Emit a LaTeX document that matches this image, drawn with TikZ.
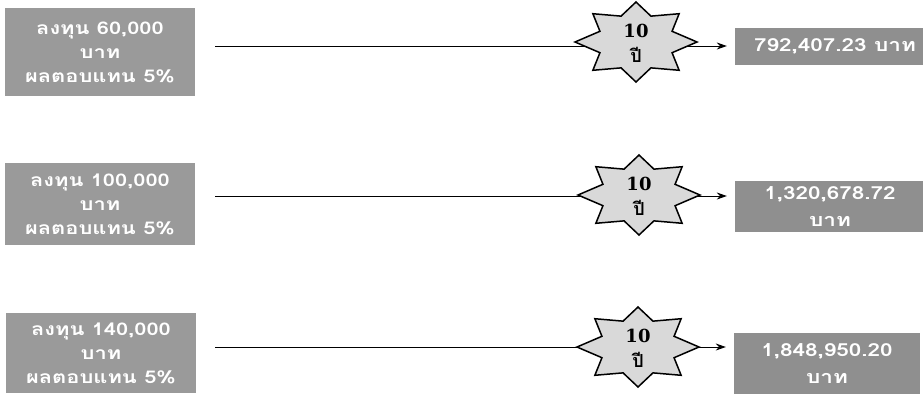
\documentclass[tikz,border=0pt]{standalone}
\usepackage{fontspec}
\newfontfamily\thai[Script=Thai,FakeStretch=1.25]{Loma}
\newfontfamily\thaistar[Script=Thai]{Loma}
\newfontfamily\serifnum{DejaVu Serif}
\usetikzlibrary{arrows.meta}
\definecolor{boxgray}{HTML}{9A9A9A}
\definecolor{resgray}{HTML}{8F8F8F}
\definecolor{stargray}{HTML}{D9D9D9}
\tikzset{
  inbox/.style={fill=boxgray, draw=none, text=white, font=\thai\bfseries\fontsize{17.5}{24}\selectfont, align=center, minimum width=190pt, inner sep=0pt},
  resbox/.style={fill=resgray, draw=none, text=white, font=\thai\bfseries\fontsize{18}{27}\selectfont, align=center, minimum width=190pt, inner sep=0pt},
  startext/.style={font=\bfseries\fontsize{18}{25}\selectfont, align=center, inner sep=0pt},
  starshape/.style={fill=stargray, draw=black, line width=1.5pt, line join=miter},
  conn/.style={draw=black, line width=0.9pt, -{Stealth[length=10pt,width=7pt]}}
}
\begin{document}
\begin{tikzpicture}[x=1pt,y=-1pt]
\useasboundingbox (0,0) rectangle (923,394);
% input boxes
\node[inbox, minimum height=88pt] (a1) at (100,52) {ลงทุน 60,000\\บาท\\ผลตอบแทน 5\%};
\node[inbox, minimum height=82pt] (a2) at (100,204) {ลงทุน 100,000\\บาท\\ผลตอบแทน 5\%};
\node[inbox, minimum height=80pt] (a3) at (101,353) {ลงทุน 140,000\\บาท\\ผลตอบแทน 5\%};
% result boxes
\node[resbox, minimum height=37pt, minimum width=200pt] (r1) at (835,46.5) {792,407.23 บาท};
\node[resbox, minimum height=51pt] (r2) at (830,206.5) {1,320,678.72\\บาท};
\node[resbox, minimum height=61pt, minimum width=186pt] (r3) at (827,363.5) {1,848,950.20\\บาท};
% connectors
\coordinate (c1) at (215,46);
\coordinate (c2) at (215,196);
\coordinate (c3) at (215,347);
\draw[conn, shorten >=8pt] (c1) -- (c1 -| r1.west);
\draw[conn, shorten >=8pt] (c2) -- (c2 -| r2.west);
\draw[conn, shorten >=8pt] (c3) -- (c3 -| r3.west);
% stars
\foreach \cx/\cy/\nm in {636/42/s1, 639/195/s2, 638/347/s3}{
  \path[starshape] (\cx,\cy-40)
    \foreach \i in {1,...,15}{
      -- ({\cx+61*(1-0.36*mod(\i,2))*cos(90+22.5*\i)},{\cy-40*(1-0.3*mod(\i,2))*sin(90+22.5*\i)})
    } -- cycle;
  \node[startext] (\nm) at (\cx,\cy+1) {{\serifnum 10}\\{\thaistar ปี}};
}
\end{tikzpicture}
\end{document}
